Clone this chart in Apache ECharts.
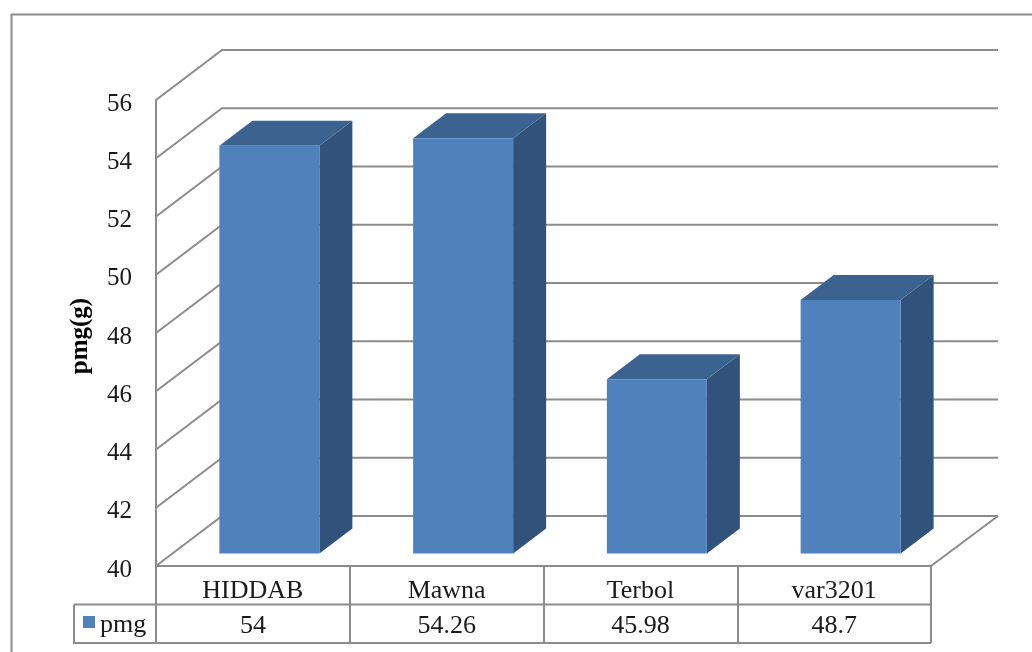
<!DOCTYPE html>
<html>
<head>
<meta charset="utf-8">
<style>html,body{margin:0;padding:0;background:#fff}#chart{width:1032px;height:652px}</style>
<script src="https://cdn.jsdelivr.net/npm/echarts@6/dist/echarts.min.js"></script>
</head>
<body>
<div id="chart"></div>
<script>
// Mean pmg per variety, drawn as pseudo-3D columns with a data table under the axis.
const categories = ['HIDDAB', 'Mawna', 'Terbol', 'var3201'];
const pmgValues = [54, 54.26, 45.98, 48.7];
const yTicks = [40, 42, 44, 46, 48, 50, 52, 54, 56];

const FONT = '"Liberation Serif", "Times New Roman", serif';
const LINE = '#8c8c8c';
const FRONT = '#4f81bd', SIDE = '#31527a', TOP = '#3c638f';

// Projection of the chart's depth axis onto the screen.
const DEPTH_X = 66, DEPTH_Y = 50;
const BAR_NEAR = 0.25, BAR_FAR = 0.75, BAR_RATIO = 100 / 193.75;
const ROW_H = 38.5;

const chart = echarts.init(document.getElementById('chart'), null, { renderer: 'canvas' });

function line(points, width) {
  return {
    type: 'polyline',
    shape: { points },
    style: { stroke: LINE, lineWidth: width || 2, fill: null }
  };
}

// Side walls and back-wall gridlines, one path per tick value.
function renderWall(params, api) {
  const cs = params.coordSys;
  const y = api.coord([0, api.value(0)])[1];
  const xl = cs.x, xr = cs.x + cs.width;
  const children = [line([
    [xl, y], [xl + DEPTH_X, y - DEPTH_Y], [xr + DEPTH_X + 1, y - DEPTH_Y]
  ])];
  if (params.dataIndex === 0) {
    children.push(line([[xr + DEPTH_X + 1, y - DEPTH_Y], [xr, y]]));
  }
  return { type: 'group', children };
}

// One column: right side, top, then the front face.
function renderBar(params, api) {
  const idx = api.value(0);
  const base = api.coord([idx, yTicks[0]]);
  const top = api.coord([idx, api.value(1)]);
  const w = api.size([1, 0])[0] * BAR_RATIO;
  const nx = DEPTH_X * BAR_NEAR, ny = DEPTH_Y * BAR_NEAR;
  const dx = DEPTH_X * (BAR_FAR - BAR_NEAR), dy = DEPTH_Y * (BAR_FAR - BAR_NEAR);
  const l = base[0] + nx - w / 2, r = l + w;
  const b = base[1] - ny, t = top[1] - ny;
  return {
    type: 'group',
    children: [
      { type: 'polygon', shape: { points: [[r, t], [r + dx, t - dy], [r + dx, b - dy], [r, b]] }, style: { fill: SIDE } },
      { type: 'polygon', shape: { points: [[l, t], [l + dx, t - dy], [r + dx, t - dy], [r, t]] }, style: { fill: TOP } },
      { type: 'rect', shape: { x: l, y: t, width: w, height: b - t }, style: { fill: FRONT } }
    ]
  };
}

// Horizontal rules and the left closing edge of the data table.
function renderTable(params) {
  const cs = params.coordSys;
  const yb = cs.y + cs.height;
  const xr = cs.x + cs.width, xo = 74;
  return {
    type: 'group',
    children: [
      line([[xo, yb + ROW_H], [xr, yb + ROW_H]]),
      line([[xo, yb + ROW_H], [xo, yb + 2 * ROW_H], [xr, yb + 2 * ROW_H]])
    ]
  };
}

chart.setOption({
  animation: false,
  backgroundColor: '#fff',
  grid: { left: 156, right: 101, top: 100, bottom: 86 },
  legend: {
    show: true,
    data: [{ name: 'pmg', icon: 'rect' }],
    left: 83,
    top: 612,
    padding: 0,
    itemWidth: 12,
    itemHeight: 12,
    itemGap: 8,
    formatter: '{t|{name}}',
    textStyle: {
      rich: { t: { fontFamily: FONT, fontSize: 26, color: '#1a1a1a', padding: [6, 0, 0, 0] } }
    }
  },
  xAxis: [
    {
      type: 'category',
      data: categories,
      position: 'bottom',
      axisLine: { show: true, lineStyle: { color: LINE, width: 2 } },
      axisTick: { show: true, length: 2 * ROW_H, lineStyle: { color: LINE, width: 2 } },
      axisLabel: { fontFamily: FONT, fontSize: 26, color: '#1a1a1a', margin: 12, interval: 0 }
    },
    {
      type: 'category',
      data: pmgValues.map(String),
      position: 'bottom',
      offset: ROW_H,
      axisLine: { show: false },
      axisTick: { show: false },
      axisLabel: { fontFamily: FONT, fontSize: 26, color: '#1a1a1a', margin: 9, interval: 0 }
    }
  ],
  yAxis: {
    type: 'value',
    min: 40,
    max: 56,
    interval: 2,
    name: 'pmg(g)',
    nameLocation: 'middle',
    nameGap: 63,
    nameTextStyle: { fontFamily: FONT, fontSize: 25, fontWeight: 'bold', color: '#000', padding: [0, 6, 0, 0] },
    axisLine: { show: true, lineStyle: { color: LINE, width: 2 } },
    axisTick: { show: false },
    splitLine: { show: false },
    axisLabel: {
      fontFamily: FONT, fontSize: 25, color: '#1a1a1a', margin: 24,
      verticalAlign: 'top', lineHeight: 8,
      formatter: v => (yTicks.includes(v) ? String(v) : '')
    }
  },
  series: [
    {
      name: 'wall',
      type: 'custom',
      renderItem: renderWall,
      clip: false,
      silent: true,
      z: 1,
      data: yTicks.map(v => [v]),
      encode: { y: 0 }
    },
    {
      name: 'table',
      type: 'custom',
      renderItem: renderTable,
      clip: false,
      silent: true,
      z: 1,
      data: [[0]]
    },
    {
      name: 'pmg',
      type: 'custom',
      renderItem: renderBar,
      clip: false,
      z: 3,
      itemStyle: { color: FRONT },
      encode: { x: 0, y: 1 },
      data: pmgValues.map((v, i) => [i, v])
    }
  ],
  graphic: [
    // Chart-area border; it runs off the right and bottom of the page.
    { type: 'polyline', silent: true, z: 0,
      shape: { points: [[11.5, 660], [11.5, 14.5], [1040, 14.5]] },
      style: { stroke: LINE, lineWidth: 2, fill: null } }
  ]
});
</script>
</body>
</html>
